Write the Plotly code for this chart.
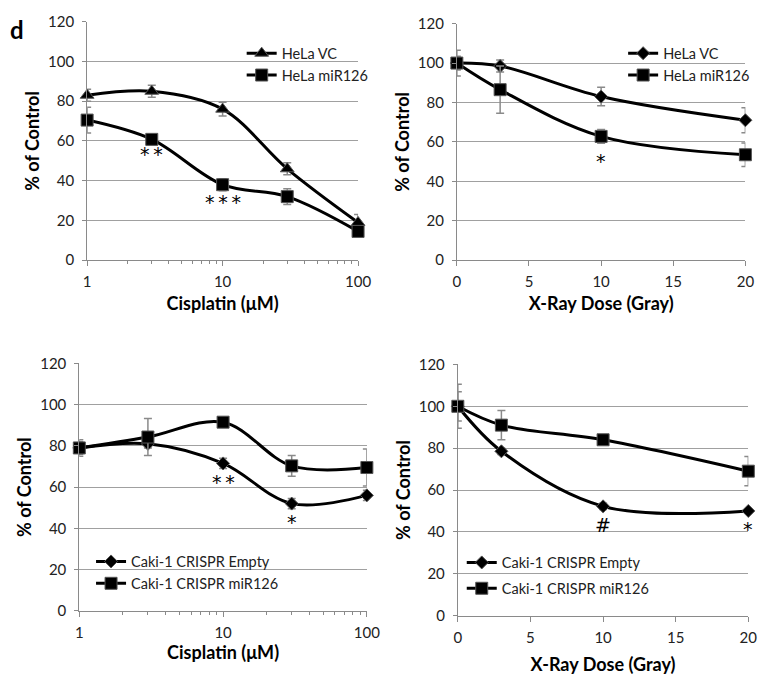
import math
import plotly.graph_objects as go

# ---------------- data ----------------
cis_dose = [1, 3, 10, 30, 100]
xray_dose = [0, 3, 10, 20]

hela_vc_cis = [83, 85, 76, 46, 19]
hela_vc_cis_err = [3, 3, 3.5, 3, 4]
hela_mir_cis = [70.5, 60.8, 38, 32, 14.5]
hela_mir_cis_err = [6.5, 2, 3, 4, 2]

hela_vc_xray = [100, 98.5, 83, 71]
hela_vc_xray_err = [3.5, 3, 4.7, 6.3]
hela_mir_xray = [100, 86.5, 62.8, 53.5]
hela_mir_xray_err = [6.5, 12, 3.5, 6]

caki_empty_cis = [79, 81, 71.5, 52, 56]
caki_empty_cis_err = [3, 2, 2.5, 2.5, 2.5]
caki_mir_cis = [79, 84.3, 91.5, 70.3, 69.5]
caki_mir_cis_err = [4, 9, 2, 5, 9]

caki_empty_xray = [100, 78.5, 52.2, 50]
caki_empty_xray_err = [7, 1.5, 1.5, 1]
caki_mir_xray = [100, 91, 84, 69]
caki_mir_xray_err = [10.5, 7, 2, 7]

y_ticks = [0, 20, 40, 60, 80, 100, 120]
cis_ticks = [1, 10, 100]
cis_minor = [2, 3, 4, 5, 6, 7, 8, 9, 20, 30, 40, 50, 60, 70, 80, 90]
xray_ticks = [0, 5, 10, 15, 20]

# significance marks: (panel, x, y, text)
sig_marks = [
    (1, 3, 53.5, "*\u2009*"), (1, 10, 29.5, "*\u2009*\u2009*"),
    (2, 10, 50.5, "*"),
    (3, 10, 62.5, "*\u2009*"), (3, 30, 43, "*"),
    (4, 10, 43.5, "#"), (4, 20, 41.5, "*"),
]

FONT = "Lato"
W, H = 776, 684

fig = go.Figure()


def add_series(xa, ya, x, y, err, name, symbol, msize, legend, group):
    fig.add_trace(go.Scatter(
        x=x, y=y, name=name, mode="lines+markers",
        xaxis=xa, yaxis=ya, legend=legend, legendgroup=group,
        line=dict(color="black", width=3, shape="spline", smoothing=1),
        marker=dict(symbol=symbol, size=msize, color="black",
                    line=dict(color="#555", width=1)),
        error_y=dict(type="data", array=err, visible=True,
                     color="#8a8a8a", thickness=1.5, width=4),
        cliponaxis=False,
    ))


add_series("x", "y", cis_dose, hela_vc_cis, hela_vc_cis_err, "HeLa VC", "triangle-up", 12, "legend", "a")
add_series("x", "y", cis_dose, hela_mir_cis, hela_mir_cis_err, "HeLa miR126", "square", 12, "legend", "b")
add_series("x2", "y2", xray_dose, hela_vc_xray, hela_vc_xray_err, "HeLa VC", "diamond", 10, "legend2", "c")
add_series("x2", "y2", xray_dose, hela_mir_xray, hela_mir_xray_err, "HeLa miR126", "square", 12, "legend2", "d")
add_series("x3", "y3", cis_dose, caki_empty_cis, caki_empty_cis_err, "Caki-1 CRISPR Empty", "diamond", 10, "legend3", "e")
add_series("x3", "y3", cis_dose, caki_mir_cis, caki_mir_cis_err, "Caki-1 CRISPR miR126", "square", 12, "legend3", "f")
add_series("x4", "y4", xray_dose, caki_empty_xray, caki_empty_xray_err, "Caki-1 CRISPR Empty", "diamond", 10, "legend4", "g")
add_series("x4", "y4", xray_dose, caki_mir_xray, caki_mir_xray_err, "Caki-1 CRISPR miR126", "square", 12, "legend4", "h")

tickfont = dict(family=FONT, size=15, color="#222")
titlefont = dict(family=FONT, size=18, color="black", weight="bold")


def px_dom(a, b):
    return [a / W, b / W]


def ydom(top, bottom):
    return [1 - bottom / H, 1 - top / H]


def yaxis(dom, anchor):
    return dict(domain=dom, anchor=anchor, range=[0, 120], tickvals=y_ticks,
                showgrid=True, gridcolor="#a0a0a0", gridwidth=1,
                showline=True, linecolor="#8a8a8a", linewidth=1,
                ticks="outside", ticklen=4, tickcolor="#8a8a8a",
                tickfont=tickfont, ticklabelstandoff=5, zeroline=False,
                title=dict(text="% of Control", font=titlefont, standoff=3))


def xaxis_log(dom, anchor, title, standoff=8):
    return dict(domain=dom, anchor=anchor, type="log", range=[0, 2],
                tickvals=cis_ticks, ticktext=[str(v) for v in cis_ticks],
                showgrid=False, showline=True, linecolor="#8a8a8a", linewidth=1,
                ticks="outside", ticklen=5, tickcolor="#8a8a8a", tickfont=tickfont,
                ticklabelstandoff=3, zeroline=False,
                minor=dict(tickmode="array", tickvals=cis_minor, ticks="outside",
                           ticklen=3, tickcolor="#8a8a8a", showgrid=False),
                title=dict(text=title, font=titlefont, standoff=standoff))


def xaxis_lin(dom, anchor, title, standoff=8):
    return dict(domain=dom, anchor=anchor, range=[0, 20], tickvals=xray_ticks,
                showgrid=False, showline=True, linecolor="#8a8a8a", linewidth=1,
                ticks="outside", ticklen=5, tickcolor="#8a8a8a", tickfont=tickfont,
                ticklabelstandoff=3, zeroline=False,
                title=dict(text=title, font=titlefont, standoff=standoff))


legfont = dict(family=FONT, size=14.5, color="#222")


def legend(x, y, gap=0):
    return dict(x=x / W, y=1 - y / H, xanchor="left", yanchor="top",
                bgcolor="rgba(0,0,0,0)", font=legfont, itemwidth=30,
                traceorder="grouped", tracegroupgap=gap)


annotations = [dict(text="<b>d</b>", x=13 / W, y=1 - 20 / H, xref="paper", yref="paper",
                    xanchor="center", yanchor="middle",
                    showarrow=False, font=dict(family=FONT, size=24, color="black"))]
for p, x, y, t in sig_marks:
    suffix = "" if p == 1 else str(p)
    xv = math.log10(x) if p in (1, 3) else x
    annotations.append(dict(text=t, x=xv, y=y, xref="x" + suffix, yref="y" + suffix,
                            xanchor="center", yanchor="middle", showarrow=False,
                            font=dict(family="DejaVu Sans", size=19, color="black")))

fig.update_layout(
    width=W, height=H, margin=dict(l=0, r=0, t=0, b=0),
    paper_bgcolor="white", plot_bgcolor="white",
    xaxis=xaxis_log(px_dom(85, 362), "y", "Cisplatin (μM)"),
    yaxis=yaxis(ydom(12, 257), "x"),
    xaxis2=xaxis_lin(px_dom(463, 758), "y2", "X-Ray Dose (Gray)"),
    yaxis2=yaxis(ydom(14, 257), "x2"),
    xaxis3=xaxis_log(px_dom(77, 371), "y3", "Cisplatin (μM)", standoff=6),
    yaxis3=yaxis(ydom(363, 617), "x3"),
    xaxis4=xaxis_lin(px_dom(464, 761), "y4", "X-Ray Dose (Gray)", standoff=13),
    yaxis4=yaxis(ydom(364, 622), "x4"),
    legend=legend(243, 28),
    legend2=legend(633, 28),
    legend3=legend(89, 550),
    legend4=legend(468, 551, gap=4),
    annotations=annotations,
    showlegend=True,
)

fig.write_html("out.html", config={"displayModeBar": False},
               post_script="document.body.style.margin='0px';")
